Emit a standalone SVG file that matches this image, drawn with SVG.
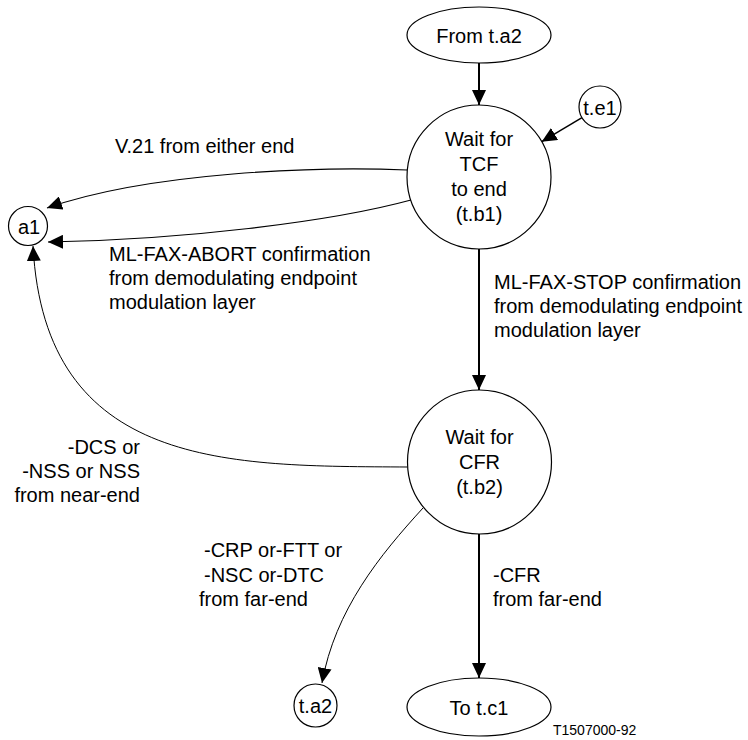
<svg xmlns="http://www.w3.org/2000/svg" width="748" height="740" viewBox="0 0 748 740">
<style>
  .node { fill: #fff; stroke: #000; stroke-width: 1.2; }
  .t { font-family: "Liberation Sans", Arial, sans-serif; font-size: 20px; fill: #000; }
  .c { text-anchor: middle; }
  .e { text-anchor: end; }
  .thick { fill: none; stroke: #000; stroke-width: 2; }
  .thin { fill: none; stroke: #000; stroke-width: 1.2; }
</style>
<defs>
  <marker id="ah" markerUnits="userSpaceOnUse" markerWidth="16" markerHeight="14" refX="15" refY="7" orient="auto">
    <path d="M0,0 L15,7 L0,14 z" fill="#000"/>
  </marker>
</defs>
<rect width="748" height="740" fill="#fff"/>

<g id="connectors">
  <path class="thick" d="M479,63 L479,105" marker-end="url(#ah)"/>
  <path class="thin" d="M582,117.7 L541.7,141.7" marker-end="url(#ah)" style="stroke-width:1.5"/>
  <path class="thin" d="M407.3,170 C320,166 150,172 47,208" marker-end="url(#ah)"/>
  <path class="thin" d="M411,200 C330,222 180,240 48,242" marker-end="url(#ah)"/>
  <path class="thick" d="M479,249 L479,390" marker-end="url(#ah)"/>
  <path class="thin" d="M407.5,467 C230,466 45,470 33,246" marker-end="url(#ah)" style="stroke-width:1"/>
  <path class="thin" d="M423,508 C380,555 335,610 322,683" marker-end="url(#ah)" style="stroke-width:1"/>
  <path class="thick" d="M479,534 L479,678" marker-end="url(#ah)"/>
</g>

<g id="labels">
  <text class="t" x="115" y="153">V.21 from either end</text>
  <text class="t" x="109" y="261">ML-FAX-ABORT confirmation</text>
  <text class="t" x="109" y="285">from demodulating endpoint</text>
  <text class="t" x="109" y="309">modulation layer</text>
  <text class="t" x="494" y="289">ML-FAX-STOP confirmation</text>
  <text class="t" x="494" y="313">from demodulating endpoint</text>
  <text class="t" x="494" y="337">modulation layer</text>
  <text class="t e" x="140" y="454">-DCS or</text>
  <text class="t e" x="140" y="478">-NSS or NSS</text>
  <text class="t e" x="140" y="502">from near-end</text>
  <text class="t" x="204" y="557">-CRP or-FTT or</text>
  <text class="t" x="204" y="582">-NSC or-DTC</text>
  <text class="t" x="199" y="606">from far-end</text>
  <text class="t" x="493" y="582">-CFR</text>
  <text class="t" x="493" y="606">from far-end</text>
  <text class="t" x="553" y="735" style="font-size:14px">T1507000-92</text>
</g>

<g id="from-ta2">
  <ellipse class="node" cx="479" cy="35" rx="72" ry="28"/>
  <text class="t c" x="479" y="43">From t.a2</text>
</g>
<g id="te1">
  <circle class="node" cx="600" cy="107" r="21"/>
  <text class="t c" x="600" y="115">t.e1</text>
</g>
<g id="wait-tcf">
  <circle class="node" cx="479" cy="177" r="72"/>
  <text class="t c" x="479" y="146">Wait for</text>
  <text class="t c" x="479" y="171">TCF</text>
  <text class="t c" x="479" y="196">to end</text>
  <text class="t c" x="479" y="221">(t.b1)</text>
</g>
<g id="a1">
  <circle class="node" cx="28" cy="226" r="19.5"/>
  <text class="t c" x="29" y="234">a1</text>
</g>
<g id="wait-cfr">
  <circle class="node" cx="479.5" cy="462" r="72"/>
  <text class="t c" x="479.5" y="444">Wait for</text>
  <text class="t c" x="479.5" y="469">CFR</text>
  <text class="t c" x="479.5" y="494">(t.b2)</text>
</g>
<g id="ta2">
  <circle class="node" cx="315.5" cy="705.5" r="21.5"/>
  <text class="t c" x="315.5" y="713">t.a2</text>
</g>
<g id="to-tc1">
  <ellipse class="node" cx="479" cy="707" rx="72" ry="29"/>
  <text class="t c" x="479" y="715">To t.c1</text>
</g>
</svg>
